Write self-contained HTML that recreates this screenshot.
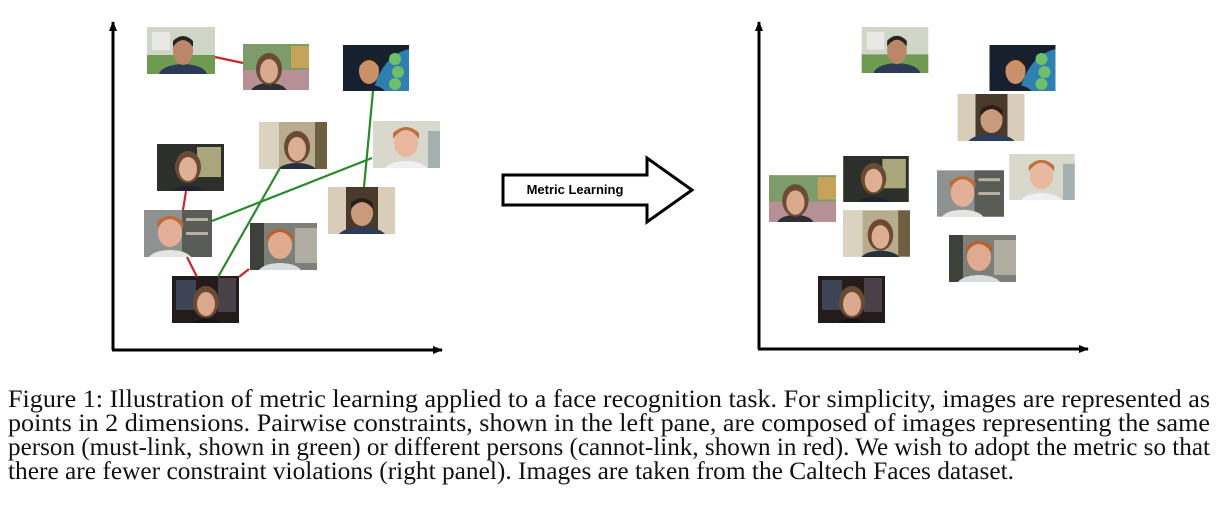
<!DOCTYPE html>
<html><head><meta charset="utf-8"><style>
html,body{margin:0;padding:0;background:#fff;width:1228px;height:510px;overflow:hidden}
svg{position:absolute;left:0;top:0}
</style></head><body>
<svg width="1228" height="510" viewBox="0 0 1228 510">
<defs>
<marker id="ah" markerWidth="10" markerHeight="8" refX="9" refY="4" orient="auto" markerUnits="userSpaceOnUse"><path d="M0,0 L10,4 L0,8 Z" fill="#000"/></marker>
<symbol id="A" viewBox="0 0 68 47"><rect width="68" height="47" fill="#cfd6c8"/><rect x="0" y="28" width="68" height="19" fill="#6f9a52"/><rect x="5" y="5" width="18" height="18" fill="#e8e8e4"/><ellipse cx="36" cy="48" rx="24" ry="11" fill="#2c3b55"/><ellipse cx="36" cy="24" rx="10" ry="14" fill="#b9876a"/><path d="M26 20 Q36 6 46 20 L46 14 Q36 4 26 14Z" fill="#2a2420"/></symbol>
<symbol id="B" viewBox="0 0 66 46"><rect width="66" height="46" fill="#7e9b6a"/><rect x="0" y="26" width="66" height="20" fill="#b78f96"/><rect x="48" y="2" width="18" height="22" fill="#c5a35a"/><ellipse cx="26" cy="48" rx="18" ry="9" fill="#2d2f33"/><ellipse cx="26" cy="25" rx="13" ry="16" fill="#6a4b33"/><ellipse cx="26" cy="27" rx="9" ry="12" fill="#d9a98c"/></symbol>
<symbol id="C" viewBox="0 0 66 46"><rect width="66" height="46" fill="#16202e"/><path d="M30 46 Q40 10 66 4 L66 46Z" fill="#2f7fb0"/><circle cx="52" cy="14" r="6" fill="#6fbf6a"/><circle cx="55" cy="27" r="6" fill="#6fbf6a"/><circle cx="52" cy="39" r="6" fill="#6fbf6a"/><ellipse cx="26" cy="48" rx="16" ry="8" fill="#1a2030"/><ellipse cx="26" cy="26" rx="10" ry="13" fill="#c9906a"/><path d="M16 22 Q26 8 36 22 L36 17 Q26 8 16 17Z" fill="#2a1f18"/></symbol>
<symbol id="D" viewBox="0 0 68 47"><rect width="68" height="47" fill="#b8ab8e"/><rect x="0" y="0" width="20" height="47" fill="#d9d3c0"/><rect x="56" y="0" width="12" height="47" fill="#6c6040"/><ellipse cx="38" cy="50" rx="20" ry="9" fill="#263040"/><ellipse cx="38" cy="25" rx="13" ry="16" fill="#6a4a32"/><ellipse cx="38" cy="27" rx="9" ry="12" fill="#dcae92"/></symbol>
<symbol id="E" viewBox="0 0 67 47"><rect width="67" height="47" fill="#d8d8cc"/><rect x="55" y="10" width="12" height="37" fill="#a5b0b0"/><ellipse cx="33" cy="50" rx="22" ry="10" fill="#eef0f4"/><ellipse cx="33" cy="22" rx="12" ry="14" fill="#e9b8a0"/><path d="M20 18 Q33 0 46 18 L46 12 Q33 0 20 12Z" fill="#c0703a"/></symbol>
<symbol id="F" viewBox="0 0 67 47"><rect width="67" height="47" fill="#2c2f2a"/><rect x="40" y="3" width="24" height="30" fill="#a8a67a"/><ellipse cx="31" cy="50" rx="18" ry="8" fill="#1e2430"/><ellipse cx="31" cy="23" rx="13" ry="16" fill="#6a4a32"/><ellipse cx="31" cy="25" rx="9" ry="12" fill="#ddaf94"/></symbol>
<symbol id="G" viewBox="0 0 67 47"><rect width="67" height="47" fill="#d8cdb8"/><rect x="18" y="0" width="32" height="47" fill="#4a3a2c"/><ellipse cx="34" cy="50" rx="24" ry="10" fill="#2d3c5a"/><ellipse cx="34" cy="26" rx="11" ry="13" fill="#c99a7c"/><path d="M23 22 Q34 8 45 22 L45 16 Q34 6 23 16Z" fill="#2a1f18"/></symbol>
<symbol id="H" viewBox="0 0 68 47"><rect width="68" height="47" fill="#8f9290"/><rect x="38" y="0" width="30" height="47" fill="#5a5c58"/><rect x="42" y="8" width="22" height="3" fill="#b8b0a0"/><rect x="42" y="22" width="22" height="3" fill="#b8b0a0"/><ellipse cx="26" cy="50" rx="22" ry="10" fill="#e4e4e0"/><ellipse cx="26" cy="23" rx="12" ry="14" fill="#e2b098"/><path d="M13 18 Q26 0 39 18 L39 12 Q26 0 13 12Z" fill="#c06a30"/></symbol>
<symbol id="I" viewBox="0 0 67 47"><rect width="67" height="47" fill="#7d7f78"/><rect x="0" y="0" width="14" height="47" fill="#3e403a"/><rect x="45" y="5" width="22" height="35" fill="#b0ada2"/><ellipse cx="30" cy="50" rx="22" ry="10" fill="#d8dcdc"/><ellipse cx="30" cy="22" rx="12" ry="14" fill="#e0aa90"/><path d="M17 18 Q30 0 43 18 L43 12 Q30 0 17 12Z" fill="#b8602e"/></symbol>
<symbol id="J" viewBox="0 0 67 47"><rect width="67" height="47" fill="#231c1a"/><rect x="4" y="4" width="20" height="30" fill="#3c4456"/><rect x="46" y="2" width="18" height="34" fill="#4a4048"/><ellipse cx="34" cy="50" rx="16" ry="7" fill="#161414"/><ellipse cx="34" cy="26" rx="13" ry="16" fill="#6a4a32"/><ellipse cx="34" cy="28" rx="9" ry="12" fill="#d9a88e"/></symbol>
</defs>
<line x1="113" y1="350" x2="113" y2="22" stroke="#000" stroke-width="3" marker-end="url(#ah)"/>
<line x1="112" y1="350" x2="442" y2="350" stroke="#000" stroke-width="3" marker-end="url(#ah)"/>
<use href="#A" x="147" y="27" width="68" height="47"/>
<use href="#B" x="243" y="44" width="66" height="46"/>
<use href="#C" x="343" y="45" width="66" height="46"/>
<use href="#D" x="259" y="122" width="68" height="47"/>
<use href="#E" x="373" y="121" width="67" height="47"/>
<use href="#F" x="157" y="144" width="67" height="47"/>
<use href="#G" x="328" y="187" width="67" height="47"/>
<use href="#H" x="144" y="210" width="68" height="47"/>
<use href="#I" x="250" y="223" width="67" height="47"/>
<use href="#J" x="172" y="276" width="67" height="47"/>
<g stroke-width="2.2" fill="none">
<line x1="215" y1="57" x2="243" y2="63" stroke="#c8282a"/>
<line x1="186" y1="191" x2="183" y2="210" stroke="#c8282a"/>
<line x1="187" y1="257" x2="197" y2="277" stroke="#c8282a"/>
<line x1="249" y1="269" x2="239" y2="277" stroke="#c8282a"/>
<line x1="373" y1="91" x2="364" y2="187" stroke="#2a8a2a"/>
<line x1="372" y1="158" x2="212" y2="221" stroke="#2a8a2a"/>
<line x1="280" y1="168" x2="218" y2="277" stroke="#2a8a2a"/>
</g>
<path d="M503 175 L647 175 L647 158 L692 190 L647 222 L647 205 L503 205 Z" fill="#fff" stroke="#000" stroke-width="3" stroke-linejoin="miter"/>
<text x="575" y="194" text-anchor="middle" font-family="Liberation Sans, sans-serif" font-weight="bold" font-size="13">Metric Learning</text>
<line x1="759" y1="349" x2="759" y2="22" stroke="#000" stroke-width="3" marker-end="url(#ah)"/>
<line x1="758" y1="349" x2="1088" y2="349" stroke="#000" stroke-width="3" marker-end="url(#ah)"/>
<use href="#A" x="861" y="27" width="68" height="46"/>
<use href="#C" x="989" y="45" width="67" height="46"/>
<use href="#G" x="957" y="94" width="68" height="47"/>
<use href="#B" x="769" y="175" width="67" height="47"/>
<use href="#F" x="843" y="156" width="66" height="46"/>
<use href="#D" x="843" y="210" width="67" height="47"/>
<use href="#H" x="937" y="170" width="67" height="47"/>
<use href="#E" x="1008" y="154" width="68" height="46"/>
<use href="#I" x="949" y="235" width="67" height="47"/>
<use href="#J" x="818" y="276" width="67" height="47"/>
<g font-family="Liberation Serif, serif" font-size="25" fill="#111">
<text x="8" y="407" textLength="1202" lengthAdjust="spacingAndGlyphs">Figure 1: Illustration of metric learning applied to a face recognition task. For simplicity, images are represented as</text>
<text x="8" y="431" textLength="1202" lengthAdjust="spacingAndGlyphs">points in 2 dimensions. Pairwise constraints, shown in the left pane, are composed of images representing the same</text>
<text x="8" y="455" textLength="1202" lengthAdjust="spacingAndGlyphs">person (must-link, shown in green) or different persons (cannot-link, shown in red). We wish to adopt the metric so that</text>
<text x="8" y="479" textLength="1006" lengthAdjust="spacingAndGlyphs">there are fewer constraint violations (right panel). Images are taken from the Caltech Faces dataset.</text>
</g>
</svg>
</body></html>
